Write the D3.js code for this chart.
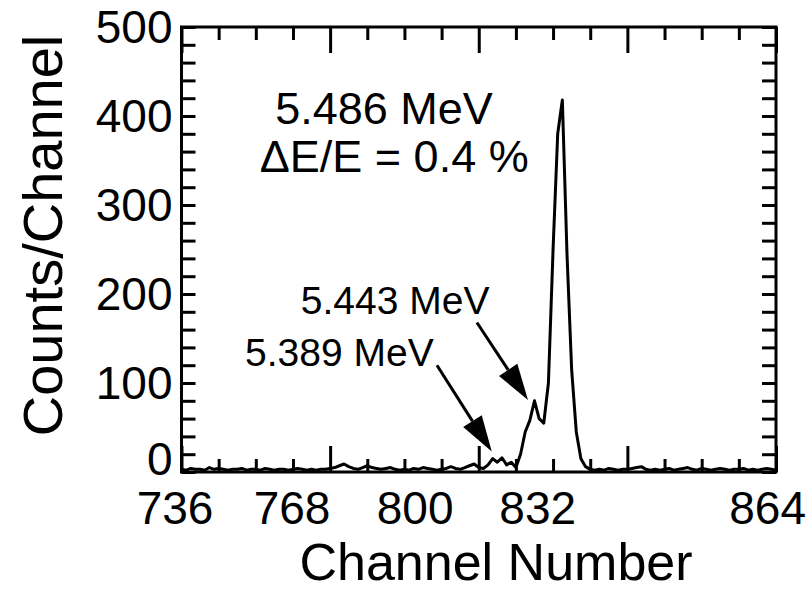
<!DOCTYPE html>
<html>
<head>
<meta charset="utf-8">
<script src="https://cdn.jsdelivr.net/npm/d3@7"></script>
<style>
  body { margin: 0; background: #fff; }
  text { font-family: "Liberation Sans", Arial, Helvetica, sans-serif; fill: #000; }
</style>
</head>
<body>
<svg width="808" height="590"></svg>
<script>
// channel range and counts per channel
var firstChannel = 736;
var counts = [
  3,2,4,3,3,2,5,3,4,3,2,3,3,4,2,3,
  3,2,4,3,2,3,3,2,3,4,3,2,3,2,3,3,
  4,5,7,9,6,4,3,5,7,5,4,3,4,5,3,2,
  3,2,4,3,5,4,3,2,3,4,6,4,3,5,7,9,
  5,4,8,15,11,16,8,11,5,20,45,58,80,60,55,100,250,380,418,245,115,45,15,6,3,
  2,3,2,4,3,2,3,3,4,5,6,3,2,3,2,3,4,2,3,4,5,3,2,4,3,2,3,4,3,2,3,3,4,2,3,2,3,4,3,2
];
var xMajor = [736, 768, 800, 832, 864];
// the original figure prints the channel labels a little off their ticks
var xLabelAt = [734.6, 759.8, 786.3, 812.7, 862.2];
var yMajor = [0, 100, 200, 300, 400, 500];

// labels: [text, channel, counts] ; arrows: [from channel, from counts, to channel, to counts]
var mainLabels = [["5.486 MeV", 779.6, 391], ["\u0394E/E = 0.4 %", 781.8, 337]];
var peakLabels = [["5.443 MeV", 782, 177], ["5.389 MeV", 770, 119]];
var arrows = [[799.6, 168, 810.6, 81], [791, 120, 802.8, 23]];

var svg = d3.select("svg"),
    margin = {top: 27, right: 32, bottom: 118, left: 181.5},
    width = +svg.attr("width") - margin.left - margin.right,
    height = +svg.attr("height") - margin.top - margin.bottom;

var data = counts.map(function(v, i) { return {ch: firstChannel + i, n: v}; });

var x = d3.scaleLinear().domain([736, 864]).range([0, width]),
    y = d3.scaleLinear().domain([0, 500]).range([height, 0]);

var g = svg.append("g")
    .attr("transform", "translate(" + margin.left + "," + margin.top + ")");

var xMinor = d3.range(736, 865, 8).filter(function(d) { return xMajor.indexOf(d) < 0; });
var yTicks = d3.range(0, 501, 20);

function styleAxis(sel) {
  sel.select(".domain").remove();
  sel.selectAll("line").attr("stroke", "#000").attr("stroke-width", 3);
  sel.selectAll("text").style("font-size", "46px");
}

// bottom
g.append("g").attr("transform", "translate(0," + height + ")")
  .call(d3.axisBottom(x).tickValues(xMajor).tickSize(-26).tickFormat(""))
  .call(styleAxis);
g.append("g").attr("transform", "translate(0," + height + ")")
  .call(d3.axisBottom(x).tickValues(xMinor).tickSize(-13).tickFormat(""))
  .call(styleAxis);
g.selectAll(".xlabel")
  .data(xMajor)
  .enter().append("text")
  .attr("class", "xlabel")
  .attr("x", function(d, i) { return x(xLabelAt[i]); })
  .attr("y", height + 52)
  .attr("text-anchor", "middle")
  .style("font-size", "46px")
  .text(function(d) { return d; });
// top
g.append("g")
  .call(d3.axisTop(x).tickValues(xMajor).tickSize(-26).tickFormat(""))
  .call(styleAxis);
g.append("g")
  .call(d3.axisTop(x).tickValues(xMinor).tickSize(-13).tickFormat(""))
  .call(styleAxis);
// left
g.append("g")
  .call(d3.axisLeft(y).tickValues(yTicks).tickSize(-14).tickFormat(""))
  .call(styleAxis);
g.append("g")
  .call(d3.axisLeft(y).tickValues(yMajor).tickSize(0).tickPadding(9).tickFormat(d3.format("d")))
  .call(styleAxis)
  .selectAll("text")
  .attr("dy", function(d) { return d === 0 ? "0.05em" : "0.34em"; });
// right
g.append("g").attr("transform", "translate(" + width + ",0)")
  .call(d3.axisRight(y).tickValues(yTicks).tickSize(-14).tickFormat(""))
  .call(styleAxis);

// frame
g.append("rect")
  .attr("width", width).attr("height", height)
  .attr("fill", "none").attr("stroke", "#000").attr("stroke-width", 3);

// spectrum
var line = d3.line()
  .x(function(d) { return x(d.ch); })
  .y(function(d) { return y(d.n); });

g.append("path")
  .datum(data)
  .attr("fill", "none")
  .attr("stroke", "#000")
  .attr("stroke-width", 3)
  .attr("stroke-linejoin", "round")
  .attr("d", line);

// annotations
g.selectAll(".main-label")
  .data(mainLabels)
  .enter().append("text")
  .attr("class", "main-label")
  .attr("x", function(d) { return x(d[1]); })
  .attr("y", function(d) { return y(d[2]); })
  .attr("text-anchor", "middle")
  .style("font-size", "45px")
  .text(function(d) { return d[0]; });

g.selectAll(".peak-label")
  .data(peakLabels)
  .enter().append("text")
  .attr("class", "peak-label")
  .attr("x", function(d) { return x(d[1]); })
  .attr("y", function(d) { return y(d[2]); })
  .attr("text-anchor", "middle")
  .style("font-size", "39px")
  .text(function(d) { return d[0]; });

var headLen = 36, headHalf = 11;
arrows.forEach(function(a) {
  var x0 = x(a[0]), y0 = y(a[1]), x1 = x(a[2]), y1 = y(a[3]);
  var dx = x1 - x0, dy = y1 - y0, len = Math.sqrt(dx * dx + dy * dy);
  var ux = dx / len, uy = dy / len;
  var bx = x1 - ux * headLen, by = y1 - uy * headLen;
  g.append("line")
    .attr("x1", x0).attr("y1", y0).attr("x2", bx).attr("y2", by)
    .attr("stroke", "#000").attr("stroke-width", 3);
  g.append("polygon")
    .attr("points", [[x1, y1], [bx - uy * headHalf, by + ux * headHalf], [bx + uy * headHalf, by - ux * headHalf]]
      .map(function(p) { return p.join(","); }).join(" "))
    .attr("fill", "#000");
});

// axis titles
svg.append("text")
  .attr("x", 496)
  .attr("y", 580)
  .attr("text-anchor", "middle")
  .style("font-size", "52px")
  .text("Channel Number");

svg.append("text")
  .attr("transform", "translate(62," + (margin.top + height / 2 - 14) + ") rotate(-90)")
  .attr("text-anchor", "middle")
  .style("font-size", "56px")
  .text("Counts/Channel");
</script>
</body>
</html>
